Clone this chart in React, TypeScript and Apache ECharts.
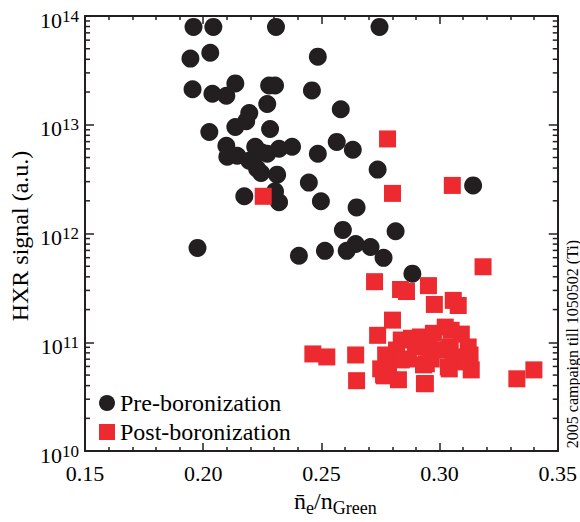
import React, { useEffect, useRef } from "react";
import * as echarts from "echarts";

const FONT = "Liberation Serif";
const INK = "#231f20";
const RED = "#ec2a2f";

const xMin = 0.15;
const xMax = 0.35;
const xInterval = 0.05;
const yMin = 1e10;
const yMax = 1e14;

const seriesNames = ["Pre-boronization", "Post-boronization"];

const preBoronization: [number, number][] = [
  [0.1959, 7.94e13], [0.2043, 7.94e13], [0.2308, 7.94e13], [0.2746, 7.94e13],
  [0.1946, 4.06e13], [0.2030, 4.6e13], [0.2485, 4.23e13],
  [0.1955, 2.12e13], [0.2039, 1.93e13], [0.2098, 1.85e13], [0.2136, 2.4e13],
  [0.2279, 2.3e13], [0.2304, 2.3e13], [0.246, 2.07e13],
  [0.2271, 1.55e13], [0.2582, 1.39e13], [0.2195, 1.28e13], [0.2182, 1.08e13],
  [0.2136, 9.55e12], [0.2283, 9.15e12], [0.2026, 8.59e12],
  [0.2565, 6.96e12], [0.2098, 6.4e12], [0.2102, 5.08e12], [0.2144, 5.19e12],
  [0.222, 6.27e12], [0.2195, 4.68e12], [0.2228, 3.95e12], [0.2245, 3.6e12],
  [0.2245, 5.6e12], [0.2271, 5.41e12], [0.2321, 6.01e12], [0.2376, 6.27e12],
  [0.2485, 5.41e12], [0.2633, 5.89e12], [0.2738, 3.87e12], [0.2447, 2.94e12],
  [0.2313, 3.48e12], [0.2174, 2.2e12], [0.2304, 2.44e12], [0.2321, 1.94e12],
  [0.2498, 1.98e12], [0.2649, 1.74e12], [0.3142, 2.77e12],
  [0.1976, 7.38e11], [0.2591, 1.08e12], [0.2814, 1.05e12], [0.2405, 6.24e11],
  [0.2515, 6.93e11], [0.2607, 6.93e11], [0.2645, 8.02e11], [0.2708, 7.53e11],
  [0.2763, 5.98e11], [0.2885, 4.28e11],
];

const postBoronization: [number, number][] = [
  [0.2254, 2.2e12], [0.278, 7.41e12], [0.2801, 2.34e12], [0.3054, 2.77e12],
  [0.3184, 4.95e11], [0.2725, 3.61e11], [0.2835, 3.06e11], [0.286, 2.93e11],
  [0.2953, 3.32e11], [0.2978, 2.23e11], [0.3058, 2.43e11], [0.3079, 2.18e11],
  [0.2801, 1.6e11], [0.2738, 1.16e11], [0.2464, 7.82e10], [0.2523, 7.34e10],
  [0.2645, 7.65e10], [0.2649, 4.44e10], [0.2936, 4.17e10], [0.2826, 4.53e10],
  [0.2763, 5.03e10], [0.3327, 4.62e10], [0.3399, 5.58e10],
  [0.2838, 1.05e11], [0.2881, 1.09e11], [0.2919, 1.12e11], [0.2974, 1.21e11],
  [0.3024, 1.38e11], [0.3092, 1.19e11], [0.3049, 1.29e11], [0.3121, 9.06e10],
  [0.3129, 7.65e10], [0.3134, 5.58e10], [0.3041, 5.7e10], [0.2944, 6.34e10],
  [0.294, 4.17e10], [0.2772, 7.65e10], [0.2818, 8.49e10], [0.2751, 5.7e10],
  [0.2767, 4.92e10], [0.2868, 7.03e10], [0.2932, 6.21e10], [0.2965, 7.03e10],
  [0.3037, 5.94e10], [0.3045, 9.06e10], [0.2898, 9.06e10], [0.2784, 6.34e10],
  [0.2838, 6.89e10], [0.2995, 8.49e10], [0.2953, 9.06e10], [0.3058, 7.34e10],
  [0.3108, 6.61e10],
];

const yDecades = [1e10, 1e11, 1e12, 1e13];
const yMinorMultipliers = [2, 3, 4, 5, 6, 7, 8, 9];
const yMinorTicks: number[] = [];
yDecades.forEach((d) => yMinorMultipliers.forEach((m) => yMinorTicks.push(d * m)));

const sideNote = "2005 campaign till 1050502 (Ti)";
const yAxisName = "HXR signal (a.u.)";

export default function App() {
  const ref = useRef<HTMLDivElement>(null);

  useEffect(() => {
    if (!ref.current) return;
    document.body.style.margin = "0";
    const chart = echarts.init(ref.current, undefined, { renderer: "svg" });

    const axisLine = { show: true, lineStyle: { color: INK, width: 2 } };

    const option: any = {
      animation: false,
      backgroundColor: "#ffffff",
      textStyle: { fontFamily: FONT, color: "#000" },
      grid: { left: 85, top: 16, width: 475, height: 439, containLabel: false },
      legend: {
        orient: "vertical",
        left: 99,
        top: 391,
        padding: 0,
        itemWidth: 16,
        itemHeight: 16,
        itemGap: 5,
        formatter: (name: string) => `{t|${name}}`,
        textStyle: {
          fontFamily: FONT,
          fontSize: 24,
          color: "#000",
          rich: { t: { fontFamily: FONT, fontSize: 24, lineHeight: 24, color: "#000" } },
        },
        data: [
          { name: seriesNames[0], icon: "circle" },
          { name: seriesNames[1], icon: "rect" },
        ],
      },
      xAxis: [
        {
          type: "value",
          min: xMin,
          max: xMax,
          interval: xInterval,
          position: "bottom",
          axisLine,
          axisTick: { show: true, inside: true, length: 8, lineStyle: { color: INK, width: 1.5 } },
          minorTick: { show: true, splitNumber: 5, length: 4, lineStyle: { color: INK, width: 1.5 } },
          splitLine: { show: false },
          axisLabel: {
            margin: 11,
            formatter: (v: number) => `{t|${v.toFixed(2)}}`,
            rich: { t: { fontFamily: FONT, fontSize: 22, color: "#000" } },
          },
          name: "{n|n\u0304}{sub|e}{n|/n}{sub|Green}",
          nameLocation: "middle",
          nameGap: 35,
          nameTextStyle: {
            fontFamily: FONT,
            color: "#000",
            padding: [0, 0, 0, 28],
            rich: {
              n: { fontFamily: FONT, fontSize: 24, lineHeight: 24, verticalAlign: "top", color: "#000" },
              sub: { fontFamily: FONT, fontSize: 18, lineHeight: 28, verticalAlign: "bottom", color: "#000" },
            },
          },
        },
        {
          type: "value",
          min: xMin,
          max: xMax,
          interval: xInterval,
          position: "top",
          axisLine,
          axisTick: { show: true, inside: true, length: 8, lineStyle: { color: INK, width: 1.5 } },
          minorTick: { show: true, splitNumber: 5, length: 4, lineStyle: { color: INK, width: 1.5 } },
          splitLine: { show: false },
          axisLabel: { show: false },
        },
      ],
      yAxis: [
        {
          type: "log",
          logBase: 10,
          min: yMin,
          max: yMax,
          position: "left",
          axisLine,
          axisTick: { show: true, inside: true, length: 9, lineStyle: { color: INK, width: 1.5 } },
          splitLine: { show: false },
          axisLabel: {
            margin: 6,
            formatter: (v: number) => `{b|10}{s|${Math.round(Math.log10(v))}}`,
            rich: {
              b: { fontFamily: FONT, fontSize: 22, lineHeight: 30, verticalAlign: "bottom", color: "#000" },
              s: { fontFamily: FONT, fontSize: 17, lineHeight: 17, verticalAlign: "middle", color: "#000" },
            },
          },
        },
        {
          type: "log",
          logBase: 10,
          min: yMin,
          max: yMax,
          position: "right",
          axisLine,
          axisTick: { show: true, inside: true, length: 9, lineStyle: { color: INK, width: 1.5 } },
          splitLine: { show: false },
          axisLabel: { show: false },
        },
      ],
      series: [
        {
          type: "custom",
          name: "yMinorTicks",
          xAxisIndex: 0,
          yAxisIndex: 0,
          silent: true,
          z: 5,
          data: yMinorTicks.map((v) => [xMin, v]),
          renderItem: (params: any, api: any) => {
            const v = api.value(1);
            const pL = api.coord([xMin, v]);
            const pR = api.coord([xMax, v]);
            const style = { stroke: INK, lineWidth: 1.5 };
            return {
              type: "group",
              children: [
                { type: "line", shape: { x1: pL[0], y1: pL[1], x2: pL[0] + 5, y2: pL[1] }, style },
                { type: "line", shape: { x1: pR[0], y1: pR[1], x2: pR[0] - 5, y2: pR[1] }, style },
              ],
            };
          },
        },
        {
          name: seriesNames[0],
          type: "scatter",
          xAxisIndex: 0,
          yAxisIndex: 0,
          symbol: "circle",
          symbolSize: 18,
          itemStyle: { color: INK, opacity: 1 },
          data: preBoronization,
          z: 2,
        },
        {
          name: seriesNames[1],
          type: "scatter",
          xAxisIndex: 0,
          yAxisIndex: 0,
          symbol: "rect",
          symbolSize: 17,
          itemStyle: { color: RED, opacity: 1 },
          data: postBoronization,
          z: 3,
        },
      ],
      graphic: [
        {
          type: "text",
          x: 20,
          y: 236,
          rotation: Math.PI / 2,
          style: {
            text: yAxisName,
            fontFamily: FONT,
            fontSize: 24,
            fill: "#000",
            align: "center",
            verticalAlign: "middle",
          },
        },
        {
          type: "text",
          x: 572,
          y: 344,
          rotation: Math.PI / 2,
          style: {
            text: sideNote,
            fontFamily: FONT,
            fontSize: 16,
            fill: "#000",
            align: "center",
            verticalAlign: "middle",
          },
        },
      ],
    };

    chart.setOption(option);
    return () => chart.dispose();
  }, []);

  return <div ref={ref} style={{ width: 580, height: 522 }} />;
}
